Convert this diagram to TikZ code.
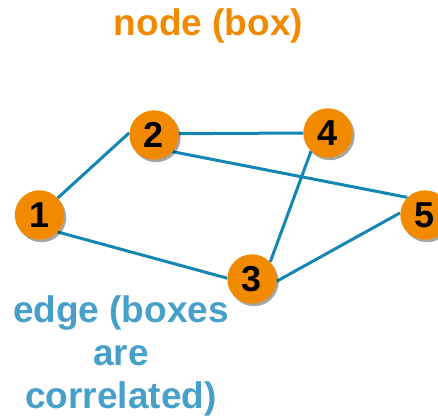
\documentclass[tikz,border=0pt]{standalone}
\usepackage{fontspec}
\setmainfont{Liberation Sans}
\usetikzlibrary{shadows,backgrounds}
\definecolor{nodeorange}{HTML}{F28A00}
\definecolor{edgeblue}{HTML}{1386B3}
\definecolor{labelblue}{HTML}{47A0C9}
\tikzset{
  vertex/.style={circle, fill=nodeorange, minimum size=49.4pt, inner sep=0pt,
    font=\fontsize{36}{40}\selectfont\bfseries, text=black,
    drop shadow={shadow xshift=2pt, shadow yshift=-2.5pt, opacity=0.35, fill=black}},
  link/.style={draw=edgeblue, line width=3pt},
  caption/.style={font=\fontsize{37}{43}\selectfont\bfseries, anchor=base, align=center}
}
\begin{document}
\begin{tikzpicture}[x=1pt,y=-1pt]
\useasboundingbox (0,0) rectangle (438,417);
\node[vertex] (n1) at (39.5,215) {1};
\node[vertex] (n2) at (154,135) {2};
\node[vertex] (n3) at (252,279) {3};
\node[vertex] (n4) at (328,133) {4};
\node[vertex] (n5) at (425,215) {5};
\begin{pgfonlayer}{background}
\draw[link] (n1.43) -- (n2.175);
\draw[link] (n1.-43) -- (n3.178);
\draw[link] (n2.3) -- (n4.180);
\draw[link] (n2.-42) -- (n5.135);
\draw[link] (n4.-133) -- (n3.43);
\draw[link] (n3.-5) -- (n5.175);
\end{pgfonlayer}
\node[caption, text=nodeorange] (title) at (208.5,36) {node (box)};
\node[caption, text=labelblue] (elabel) at (121,408) {edge (boxes\\are\\correlated)};
\end{tikzpicture}
\end{document}
